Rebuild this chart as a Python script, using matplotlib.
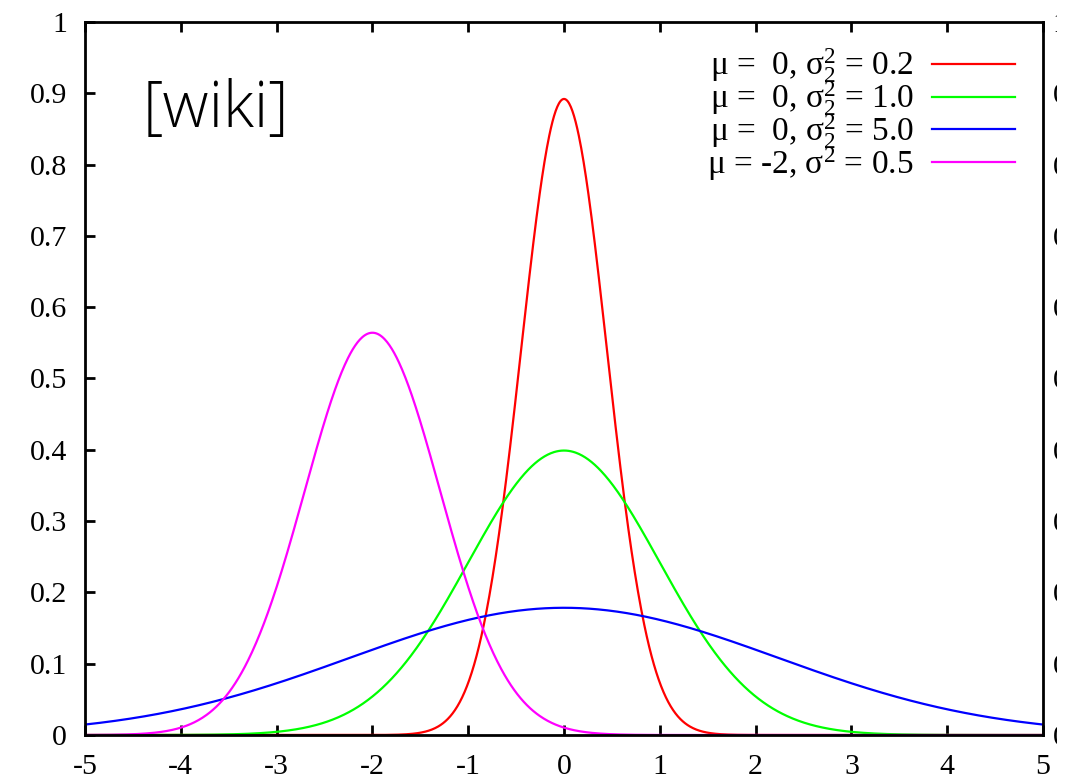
"""
Normal distribution densities for several (mu, sigma^2) pairs.
"""

import numpy as np
import matplotlib.pyplot as plt
from matplotlib.patches import Rectangle

# ── DATA ────────────────────────────────────────────────────────────
MU = [0, 0, 0, -2]
VAR = [0.2, 1.0, 5.0, 0.5]
COLORS = ["#ff0000", "#00ff00", "#0000ff", "#ff00ff"]
LABELS = [
    "μ =  0, σ$^2_2$ = 0.2",
    "μ =  0, σ$^2_2$ = 1.0",
    "μ =  0, σ$^2_2$ = 5.0",
    "μ = -2, σ$^2$ = 0.5",
]
X_TICKS = [-5, -4, -3, -2, -1, 0, 1, 2, 3, 4, 5]
Y_TICKS = [0, 0.1, 0.2, 0.3, 0.4, 0.5, 0.6, 0.7, 0.8, 0.9, 1]
Y_TICK_LABELS = ["0", "0.1", "0.2", "0.3", "0.4", "0.5", "0.6", "0.7", "0.8", "0.9", "1"]
# ────────────────────────────────────────────────────────────────────

plt.rcParams["font.family"] = ["Liberation Serif", "DejaVu Serif"]
plt.rcParams["mathtext.fontset"] = "custom"
plt.rcParams["mathtext.rm"] = "Liberation Serif"
plt.rcParams["mathtext.it"] = "Liberation Serif"
plt.rcParams["mathtext.default"] = "regular"

FS = 21.5


def normal_pdf(x, mu, var):
    return np.exp(-(x - mu) ** 2 / (2 * var)) / np.sqrt(2 * np.pi * var)


fig = plt.figure(figsize=(10.72, 7.80), dpi=100)
ax = fig.add_axes([0.0793, 0.0577, 0.8937, 0.9141])

x = np.linspace(-5, 5, 1200)
for mu, var, color, label in zip(MU, VAR, COLORS, LABELS):
    ax.plot(x, normal_pdf(x, mu, var), color=color, lw=1.6, label=label)

ax.set_xlim(-5, 5)
ax.set_ylim(0, 1)
ax.set_xticks(X_TICKS)
ax.set_xticklabels([str(t) for t in X_TICKS])
ax.set_yticks(Y_TICKS)
ax.set_yticklabels(Y_TICK_LABELS)

for sp in ax.spines.values():
    sp.set_linewidth(2.0)
ax.tick_params(direction="in", length=7, width=2.0, labelsize=FS,
               top=True, right=True)
ax.tick_params(axis="x", pad=14)
ax.tick_params(axis="y", pad=13)

# right-side labels, closer to the frame (only their edge survives the crop)
ax2 = ax.twinx()
ax2.set_ylim(ax.get_ylim())
ax2.set_yticks(Y_TICKS)
ax2.set_yticklabels(Y_TICK_LABELS)
ax2.tick_params(direction="in", length=0, labelsize=FS, pad=7)
for sp in ax2.spines.values():
    sp.set_visible(False)

leg = ax.legend(loc="upper right", bbox_to_anchor=(0.971, 0.966), frameon=False,
                markerfirst=False, fontsize=24, handlelength=2.5,
                labelspacing=-0.18, handletextpad=0.55, borderaxespad=0,
                borderpad=0)

ax.text(0.06, 0.876, "[wiki]", transform=ax.transAxes, family="Open Sans",
        fontweight="light", fontsize=46, va="center", ha="left")

# the image is cropped just past the right frame
fig.add_artist(Rectangle((1057 / 1072, 0), 1, 1, transform=fig.transFigure,
                         facecolor="white", edgecolor="none", zorder=10))

fig.savefig("out.png", dpi=100)
